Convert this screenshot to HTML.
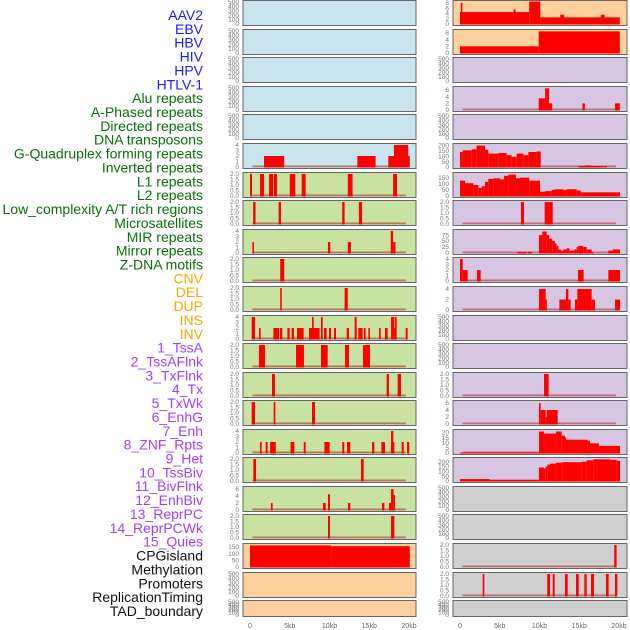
<!DOCTYPE html>
<html><head><meta charset="utf-8">
<style>
html,body{margin:0;padding:0;background:#fff;width:630px;height:630px;overflow:hidden}
svg{display:block}
.lab{font-family:"Liberation Sans",sans-serif;font-size:14px}
.tk{font-family:"Liberation Sans",sans-serif;font-size:6.5px;fill:#777}
.ax{font-family:"Liberation Sans",sans-serif;font-size:7px;fill:#666}
</style></head>
<body>
<svg id="chart" width="630" height="630" viewBox="0 0 630 630"></svg>
<script>
const labels = ["AAV2","EBV","HBV","HIV","HPV","HTLV-1","Alu repeats","A-Phased repeats","Directed repeats","DNA transposons","G-Quadruplex forming repeats","Inverted repeats","L1 repeats","L2 repeats","Low_complexity A/T rich regions","Microsatellites","MIR repeats","Mirror repeats","Z-DNA motifs","CNV","DEL","DUP","INS","INV","1_TssA","2_TssAFlnk","3_TxFlnk","4_Tx","5_TxWk","6_EnhG","7_Enh","8_ZNF_Rpts","9_Het","10_TssBiv","11_BivFlnk","12_EnhBiv","13_ReprPC","14_ReprPCWk","15_Quies","CPGisland","Methylation","Promoters","ReplicationTiming","TAD_boundary"];
const labelColors = ["#1a1aff","#1a1aff","#1a1aff","#1a1aff","#1a1aff","#1a1aff","#0a6e0a","#0a6e0a","#0a6e0a","#0a6e0a","#0a6e0a","#0a6e0a","#0a6e0a","#0a6e0a","#0a6e0a","#0a6e0a","#0a6e0a","#0a6e0a","#0a6e0a","#ffa500","#ffa500","#ffa500","#ffa500","#ffa500","#a040ff","#a040ff","#a040ff","#a040ff","#a040ff","#a040ff","#a040ff","#a040ff","#a040ff","#a040ff","#a040ff","#a040ff","#a040ff","#a040ff","#a040ff","#111","#111","#111","#111","#111"];
const xTicks = [0,5,10,15,20];
const xTickLabels = ["0","5kb","10kb","15kb","20kb"];

const T500 = ["0","100","200","300","400","500"];
const T2 = ["0.0","0.5","1.0","1.5","2.0"];
const T4 = ["0","1","2","3","4"];

// left column bars [startKb, endKb, value]
const L5 = [[1.76,4.3,2],[13.5,15.8,2],[17.4,20.1,2],[18.1,19.9,4]];
const L6 = [[0,0.25,2],[1.26,1.76,2],[2.4,2.9,2],[3.0,3.4,2],[5.0,5.7,2],[6.5,7.0,2],[12.3,12.9,2],[18.0,18.5,2]];
const L7 = [[0.4,0.7,2],[3.6,3.9,2],[11.6,11.9,2],[13.7,14.1,2]];
const L8 = [[0.3,0.5,2],[9.8,10.1,2],[12.3,12.7,2],[17.7,18,4],[18,18.3,2]];
const L9 = [[3.8,4.3,2]];
const L10 = [[3.8,4.0,2],[11.9,12.3,2]];
const L11 = [[0.21,0.63,4],[1.13,1.34,2],[2.94,3.65,2],[3.77,4.07,2],[4.7,4.99,2],[5.24,5.53,2],[5.91,6.75,2],[7.42,8.76,2],[7.8,8.01,4],[8.93,9.14,4],[9.31,9.64,2],[9.94,10.19,2],[10.57,10.82,2],[12.16,12.45,2],[13.16,13.42,4],[13.63,14.17,2],[14.34,14.55,2],[14.89,15.09,2],[16.23,16.44,2],[16.98,17.32,2],[17.74,18.16,4],[18.24,18.45,4],[18.16,18.24,2],[19.58,19.83,2]];
const L12 = [[1.13,1.89,2],[5.79,6.79,2],[8.93,9.77,2],[11.95,12.45,2],[14.21,15.09,2]];
const L13 = [[2.77,3.14,2],[17.19,17.48,2],[18.57,18.99,2]];
const L14 = [[0.21,0.63,2],[2.98,3.19,2],[7.8,8.18,2]];
const L15 = [[1.26,1.47,2],[1.97,2.22,2],[2.52,3.24,2],[5.1,5.58,2],[6.76,7.0,2],[9.35,10.02,2],[11.61,11.86,2],[12.2,12.62,2],[15.35,15.64,2],[16.52,16.98,2],[17.74,18.16,2],[17.74,18.03,4],[19.08,19.33,2],[19.75,20.04,2]];
const L16 = [[0.42,0.76,2],[13.96,14.3,2]];
const L17 = [[2.64,2.85,2],[9.18,9.52,2],[9.81,10.06,4.5],[12.33,12.62,2],[16.6,16.9,2],[17.48,17.74,2],[17.74,18.07,6],[18.07,18.24,4.3]];
const L18 = [[9.81,10.06,2],[17.74,18.16,2]];
const L19 = [[0,10.2,162],[10.2,20.1,156]];

// right column bars
const R0 = [[0,8.7,4.5],[0.1,0.3,8],[6.75,7.0,5.5],[8.7,10.1,8.5],[10.1,20.1,2.5],[12.6,13.1,3.5],[17.7,18.2,3.5]];
const R1 = [[0,9.9,2],[9.9,20.1,6.5]];
const R3 = [[9.9,10.7,3.5],[10.7,11.2,6.5],[11.2,11.6,2],[15.4,15.7,2],[19.5,20.1,2]];
const R5 = [[0,0.34,140],[0.34,1.47,155],[1.47,2.1,165],[2.1,3.14,200],[3.14,3.56,160],[3.56,4.82,125],[4.82,5.87,130],[5.87,6.5,110],[6.5,7.13,95],[7.13,7.97,125],[7.97,8.6,110],[8.6,9.64,140],[9.64,10.15,145],[14.88,18.03,10],[15.72,16.56,15],[18.1,18.45,10]];
const R6 = [[0,0.63,125],[0.63,1.68,105],[1.68,2.3,90],[2.3,2.73,65],[2.73,3.14,80],[3.14,3.56,115],[3.56,4.19,140],[4.19,5.03,145],[5.03,5.53,135],[5.53,6.08,165],[6.08,7.04,175],[7.04,7.55,145],[7.55,8.72,150],[8.72,10.06,125],[10.06,10.69,35],[10.69,11.53,40],[11.53,11.95,50],[11.95,13.0,55],[13.0,13.42,50],[13.42,14.68,55],[14.68,15.18,45],[15.18,20.13,30]];
const R7 = [[7.67,8.05,2],[10.65,11.66,2]];
const R8 = [[7.21,8.39,5],[8.55,9.06,5],[9.94,10.36,75],[10.36,10.9,90],[10.9,11.2,75],[11.2,11.61,60],[11.61,11.95,50],[11.95,12.16,40],[12.16,12.37,30],[12.37,12.7,15],[12.7,13.0,10],[13.0,13.42,15],[13.42,13.75,20],[13.75,14.38,10],[14.38,14.68,15],[14.68,14.88,25],[14.88,15.51,30],[15.51,15.93,25],[15.93,16.56,15],[16.56,16.77,5],[18.66,19.2,10],[19.2,20.13,15]];
const R9 = [[0,0.34,4],[0.34,0.97,2],[2.14,2.6,2],[14.84,15.55,2],[18.66,20.13,2]];
const R10 = [[9.94,10.78,4],[10.78,10.9,2],[12.5,13.33,2],[13.33,13.63,4],[13.63,13.92,2],[14.47,14.76,2],[14.76,16.56,4],[16.56,16.98,2],[19.5,20.13,2]];
const R13 = [[10.57,11.15,2]];
const R14 = [[9.94,10.15,6],[10.15,10.78,4],[10.78,10.9,2],[10.9,12.29,4]];
const R15 = [[0,9.94,0.5],[9.94,10.57,21],[10.57,12.08,19],[12.08,12.79,21],[12.79,13.21,17],[13.21,13.33,15],[13.33,16.06,13],[16.06,16.35,12],[16.35,17.48,9.5],[17.48,20.13,7]];
const R16 = [[0,3.77,20],[3.77,9.94,10],[9.94,10.57,140],[10.57,10.78,130],[10.78,10.99,150],[10.99,11.32,170],[11.32,12.08,180],[12.08,12.91,190],[12.91,15.3,195],[15.3,15.93,200],[15.93,16.77,215],[16.77,18.87,225],[18.87,19.71,220],[19.71,20.13,210]];
const R19 = [[19.4,19.7,2]];
const R20 = [[2.85,3.06,2],[10.98,11.32,2],[11.66,11.91,2],[13.2,13.55,2],[14.59,14.93,2],[15.64,15.94,2],[16.48,16.86,2],[18.36,18.7,2],[19.5,19.79,2]];

const BLUE="#c8e4ec", GREEN="#c8e2a2", ORANGE="#fed09e", PURPLE="#d6c6e2", GRAY="#d0d0d0";
const leftCfg = [
 [BLUE,T500,500,null],[BLUE,T500,500,null],[BLUE,T500,500,null],[BLUE,T500,500,null],[BLUE,T500,500,null],
 [BLUE,T4,4,L5],[GREEN,T2,2,L6],[GREEN,T2,2,L7],[GREEN,T4,4,L8],[GREEN,T2,2,L9],[GREEN,T2,2,L10],
 [GREEN,T4,4,L11],[GREEN,T2,2,L12],[GREEN,T2,2,L13],[GREEN,T2,2,L14],[GREEN,T4,4,L15],[GREEN,T2,2,L16],
 [GREEN,["0","2","4","6"],6.3,L17],[GREEN,T2,2,L18],[ORANGE,["0","50","100","150"],165,L19],[ORANGE,T500,500,null],[ORANGE,T500,500,null]
];
const rightCfg = [
 [ORANGE,["0","2","4","6","8"],8.3,R0],[ORANGE,["0","2","4","6"],6.6,R1],[PURPLE,T500,500,null],[PURPLE,["0","2","4","6"],6.6,R3],
 [PURPLE,T500,500,null],[PURPLE,["0","50","100","150","200"],205,R5],[PURPLE,["0","50","100","150"],180,R6],[PURPLE,T2,2,R7],
 [PURPLE,["0","25","50","75"],92,R8],[PURPLE,T4,4,R9],[PURPLE,["0","2","4"],4.2,R10],[PURPLE,T500,500,null],[PURPLE,T500,500,null],
 [PURPLE,T2,2,R13],[PURPLE,["0","2","4","6"],6.3,R14],[PURPLE,["0","5","10","15","20"],21.5,R15],[PURPLE,["0","50","100","150","200"],228,R16],
 [GRAY,T500,500,null],[GRAY,T500,500,null],[GRAY,T2,2,R19],[GRAY,T2,2,R20],[GRAY,T500,500,null]
];
const rowTops = [0,29,57,86,114,143,172,200,229,257,286,315,343,372,400,429,457,486,514,543,572,600];

const NS="http://www.w3.org/2000/svg";
const svg=document.getElementById('chart');
function mk(tag,attrs,parent){const e=document.createElementNS(NS,tag);for(const k in attrs)e.setAttribute(k,attrs[k]);(parent||svg).appendChild(e);return e;}

// labels
labels.forEach((t,i)=>{
  const e=mk('text',{x:203,y:20+i*13.86,'text-anchor':'end',fill:labelColors[i],class:'lab'});
  e.textContent=t;
  
  
});

function drawCol(cfg,px0,pxL,pxR,tickX,side){
  const xs=kb=>px0+kb*7.95;
  cfg.forEach((c,i)=>{
    const top=rowTops[i], h=(i===rowTops.length-1)?16:25;
    const g=mk('g',{});
    
    
    const bg=mk('rect',{x:pxL,y:top+0.5,width:pxR-pxL,height:h,fill:c[0],stroke:'#666','stroke-width':1},g);
    
    
    const y0=top+h-1, y1=top+2;
    const ys=v=>y0-(v/c[2])*(y0-y1);
    const tk=c[1];
    tk.forEach(t=>{
      const v=parseFloat(t);
      const e=mk('text',{x:tickX,y:ys(v)+2.2,'text-anchor':'end',class:'tk'},g);
      e.textContent=t;
      
      
    });
    if(c[3]){
      const bl=mk('rect',{x:xs(0.3),y:y0-1.5,width:xs(19.6)-xs(0.3),height:1.8,fill:'#b03030',opacity:0.6},g);
      
      
      c[3].forEach(b=>{
        const yy=ys(b[2]);
        const r=mk('rect',{x:xs(b[0]),y:yy,width:Math.max(1.2,xs(b[1])-xs(b[0])),height:y0-yy+0.5,fill:'#ff0000'},g);
        
        
      });
    }
  });
  xTicks.forEach((k,i)=>{
    const e=mk('text',{x:xs(k),y:628,'text-anchor':'middle',class:'ax'});
    e.textContent=xTickLabels[i];
    
    
  });
}
drawCol(leftCfg,250,243,416,239,'left');
drawCol(rightCfg,460,453,627,449,'right');
</script>
</body></html>
